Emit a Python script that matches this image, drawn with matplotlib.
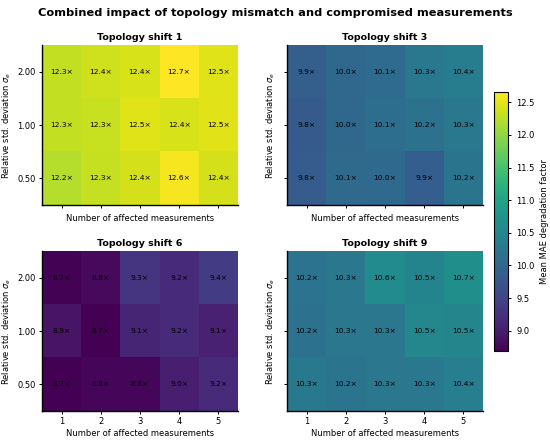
import numpy as np
import matplotlib
matplotlib.use("Agg")
from matplotlib import pyplot as plt

# data
n_affected = [1, 2, 3, 4, 5]
sigma_levels = ["0.50", "1.00", "2.00"]
shift_titles = ["Topology shift 1", "Topology shift 3", "Topology shift 6", "Topology shift 9"]

# rows: sigma 0.50, 1.00, 2.00 ; cols: 1..5 affected measurements
shift1 = [[12.22, 12.31, 12.40, 12.60, 12.41],
          [12.29, 12.33, 12.47, 12.42, 12.48],
          [12.30, 12.38, 12.42, 12.66, 12.46]]
shift3 = [[9.84, 10.06, 10.04, 9.88, 10.21],
          [9.82, 10.02, 10.12, 10.18, 10.28],
          [9.89, 10.01, 10.08, 10.28, 10.38]]
shift6 = [[8.69, 8.76, 8.75, 9.02, 9.18],
          [8.90, 8.70, 9.10, 9.16, 9.06],
          [8.72, 8.79, 9.30, 9.17, 9.38]]
shift9 = [[10.29, 10.22, 10.26, 10.28, 10.39],
          [10.17, 10.26, 10.27, 10.52, 10.50],
          [10.20, 10.27, 10.60, 10.48, 10.66]]

grids = [np.array(shift1), np.array(shift3), np.array(shift6), np.array(shift9)]
vmin = min(g.min() for g in grids)
vmax = max(g.max() for g in grids)

fig = plt.figure(figsize=(5.5, 4.42), dpi=100)
fig.suptitle("Combined impact of topology mismatch and compromised measurements",
             fontsize=8.2, fontweight="bold", y=0.982)

W, H = 0.356, 0.362
positions = [(0.0764, 0.536), (0.522, 0.536), (0.0764, 0.070), (0.522, 0.070)]

im = None
for k, (grid, title) in enumerate(zip(grids, shift_titles)):
    ax = fig.add_axes([positions[k][0], positions[k][1], W, H])
    im = ax.imshow(grid, cmap="viridis", vmin=vmin, vmax=vmax, origin="lower",
                   aspect="auto")
    for i in range(grid.shape[0]):
        for j in range(grid.shape[1]):
            ax.text(j, i, f"{grid[i, j]:.1f}\u00d7", ha="center", va="center",
                    fontsize=5.4, color="black")
    ax.set_title(title, fontsize=6.8, fontweight="bold", pad=3.5)
    ax.set_xticks(range(len(n_affected)))
    ax.set_yticks(range(len(sigma_levels)))
    if k >= 2:
        ax.set_xticklabels(n_affected, fontsize=6)
    else:
        ax.set_xticklabels([])
    if k % 2 == 0:
        ax.set_yticklabels(sigma_levels, fontsize=6)
    else:
        ax.set_yticklabels([])
    ax.set_xlabel("Number of affected measurements", fontsize=6, labelpad=2)
    ax.set_ylabel(r"Relative std. deviation $\sigma_e$", fontsize=6, labelpad=3)
    ax.tick_params(length=2.5, width=0.7, pad=2)
    ax.spines["top"].set_visible(False)
    ax.spines["right"].set_visible(False)
    ax.spines["left"].set_linewidth(1.0)
    ax.spines["bottom"].set_linewidth(1.0)

cax = fig.add_axes([0.898, 0.206, 0.0255, 0.586])
cb = fig.colorbar(im, cax=cax)
cb.set_label("Mean MAE degradation factor", fontsize=6)
cb.ax.tick_params(labelsize=6, length=2.5, width=0.7)

fig.savefig("out.png", dpi=100)
